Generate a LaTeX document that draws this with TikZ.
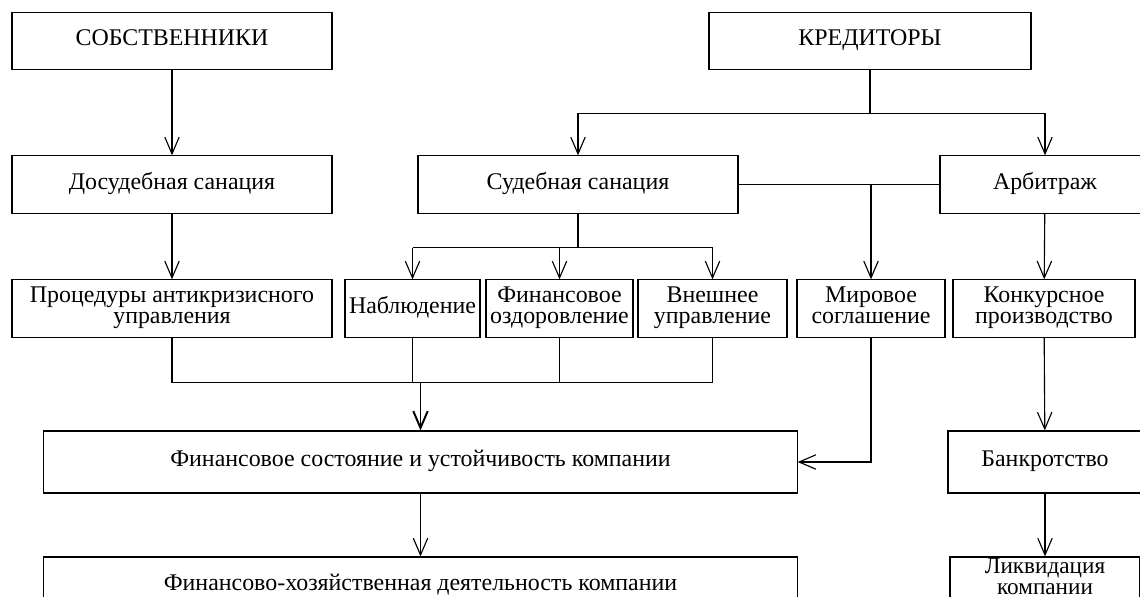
\documentclass[tikz,border=0pt]{standalone}
\usepackage{fontspec}
\setmainfont{Liberation Serif}
\usetikzlibrary{arrows.meta, positioning}

\tikzset{
    box/.style={draw, line width=0.8pt, minimum height=1.43cm, inner xsep=0pt, inner ysep=1pt,
                align=center, font=\fontsize{17}{15.5}\selectfont,
                execute at begin node=\strut, execute at end node=\strut},
    arr/.style={-{Straight Barb[length=4.2mm, width=3.6mm]}, line width=0.8pt},
    link/.style={line width=0.8pt},
    trunk/.style={line width=1.4pt},
}

\begin{document}
\begin{tikzpicture}[x=0.025cm, y=-0.025cm]
    \useasboundingbox (0,0) rectangle (1140,597);
    \clip (0,0) rectangle (1140,597);

    % top row
    \node[box, minimum width=8cm] (owners) at (172,41) {СОБСТВЕННИКИ};
    \node[box, minimum width=8.05cm] (creditors) at (870,41) {КРЕДИТОРЫ};

    % sanation row
    \node[box, minimum width=8cm] (presan) at (172,184.5) {Досудебная санация};
    \node[box, minimum width=8cm] (courtsan) at (578,184.5) {Судебная санация};
    \node[box, minimum width=5.25cm] (arbitr) at (1045,184.5) {Арбитраж};

    % procedures row
    \node[box, minimum width=8cm] (proc) at (172,308.5) {Процедуры антикризисного\\управления};
    \node[box, minimum width=3.375cm] (observ) at (412.5,308.5) {Наблюдение};
    \node[box, minimum width=3.675cm] (recov) at (559.5,308.5) {Финансовое\\оздоровление};
    \node[box, minimum width=3.725cm] (extman) at (712.5,308.5) {Внешнее\\управление};
    \node[box, minimum width=3.7cm] (peace) at (871,308.5) {Мировое\\соглашение};
    \node[box, minimum width=4.55cm] (compet) at (1044,308.5) {Конкурсное\\производство};

    % result rows
    \node[box, minimum width=18.825cm, minimum height=1.55cm] (state) at (420.5,462)
        {Финансовое состояние и устойчивость компании};
    \node[box, minimum width=4.85cm, minimum height=1.55cm] (bankr) at (1045,462) {Банкротство};
    \node[box, minimum width=18.825cm, minimum height=1.45cm] (activity) at (420.5,586)
        {Финансово-хозяйственная деятельность компании};
    \node[box, minimum width=4.75cm, minimum height=1.15cm, inner ysep=0pt,
          font=\fontsize{16.5}{15}\selectfont] (liquid) at (1045,580)
        {Ликвидация\\компании};

    % connectors
    \draw[arr] (owners) -- (presan);
    \draw[arr] (presan) -- (proc);

    \draw[trunk] (creditors.south) -- ++(0,43) coordinate (cj);
    \draw[arr] (cj) -| (courtsan.north);
    \draw[arr] (cj) -| (arbitr.north);

    \draw[link] (courtsan.east) -- (arbitr.west);
    \draw[arr] (courtsan.east -| peace.north) -- (peace.north);

    \draw[trunk] (courtsan.south) -- ++(0,34) coordinate (cs);
    \draw[link] (cs -| observ.north) -- (cs -| extman.north);
    \foreach \n in {observ, recov, extman}
        \draw[arr] (cs -| \n.north) -- (\n.north);

    \path (state.north) ++(0,-48) coordinate (bj);
    \draw[link] (proc.south) |- (extman.south |- bj) -- (extman.south);
    \foreach \n in {observ, recov}
        \draw[link] (\n.south) -- (\n.south |- bj);
    \draw[arr, line width=1.4pt] (bj) -- (state.north);

    \draw[arr] (peace.south) |- (state.east);
    \draw[arr] (state) -- (activity);

    \draw[arr] (arbitr) -- (compet);
    \draw[arr] (compet) -- (bankr);
    \draw[arr] (bankr) -- (liquid);
\end{tikzpicture}
\end{document}
